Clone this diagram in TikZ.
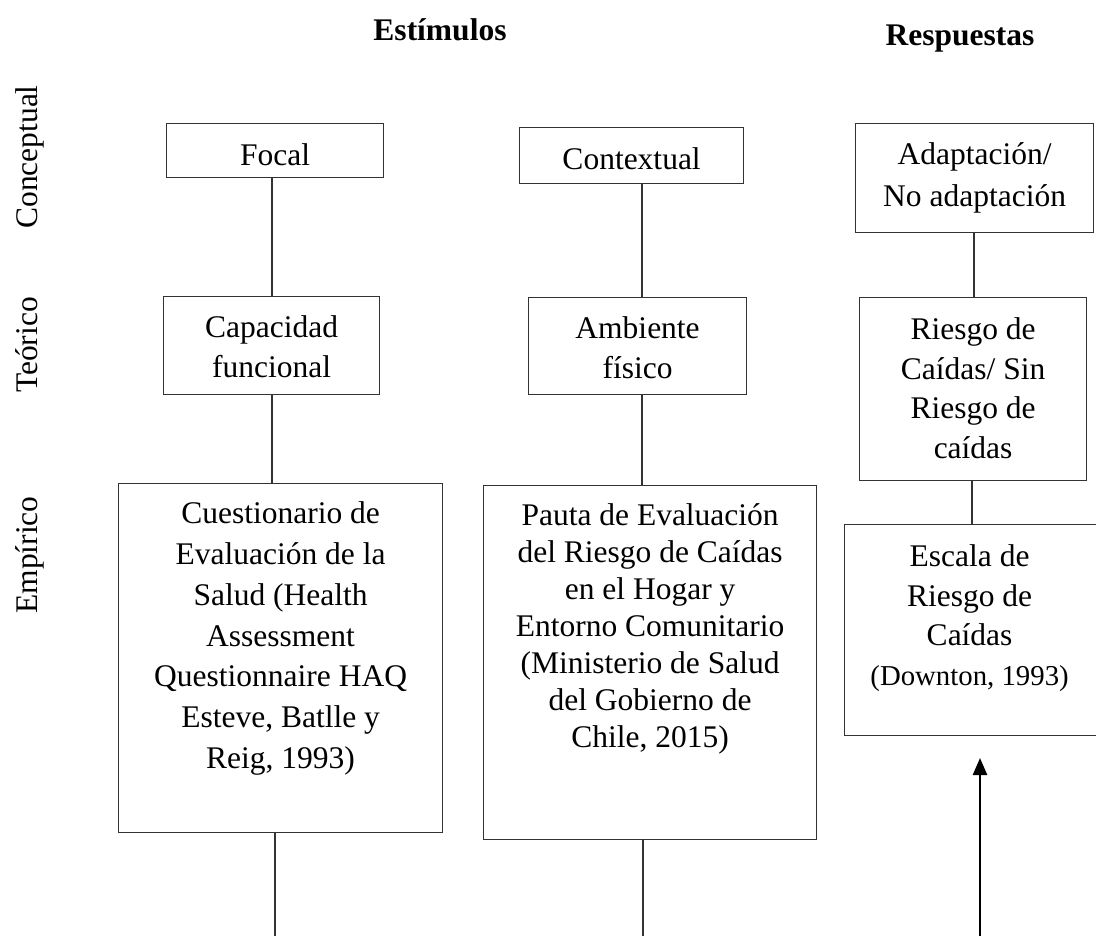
\documentclass[tikz,border=0pt]{standalone}
\usepackage{fontspec}
\setmainfont{Liberation Serif}
\usetikzlibrary{arrows.meta}
\newcommand\bxc[5]{\parbox[c][#2][t]{#1}{\fontsize{31.5}{#4}\selectfont\centering\rule{0pt}{#3}#5}}
\tikzset{
  bx/.style={draw=black!80, line width=1.2pt, inner sep=0pt, anchor=north west},
  conn/.style={draw=black!80, line width=1.2pt},
  arr/.style={draw=black, line width=2.4pt, -{Triangle[length=17pt,width=14pt]}},
  ttl/.style={font=\fontsize{31.5}{38}\selectfont\bfseries, anchor=base, inner sep=0pt},
  lab/.style={font=\fontsize{31.5}{38}\selectfont, rotate=90, anchor=base, inner sep=0pt}
}
\begin{document}
\begin{tikzpicture}[x=1pt,y=-1pt]
\useasboundingbox (0,0) rectangle (1096,936);
% titles
\node[ttl] (estim) at (440,41) {Estímulos};
\node[ttl] (resp) at (960,46) {Respuestas};
% side labels
\node[lab] (conc) at (37,157) {Conceptual};
\node[lab] (teor) at (37,345) {Teórico};
\node[lab] (empi) at (37,555) {Empírico};
% left column
\node[bx] (focal) at (166,123) {\bxc{217pt}{54pt}{42pt}{40pt}{Focal}};
\node[bx] (cap) at (163,296) {\bxc{216pt}{98pt}{41pt}{40pt}{Capacidad\\funcional}};
\node[bx] (cues) at (118,483) {\bxc{324pt}{349pt}{40pt}{40.8pt}{Cuestionario de\\Evaluación de la\\Salud (Health\\Assessment\\Questionnaire HAQ\\Esteve, Batlle y\\Reig, 1993)}};
% middle column
\node[bx] (cont) at (519,127) {\bxc{224pt}{56pt}{42pt}{40pt}{Contextual}};
\node[bx] (amb) at (528,297) {\bxc{218pt}{97pt}{41pt}{40pt}{Ambiente\\físico}};
\node[bx] (pauta) at (483,485) {\bxc{333pt}{354pt}{40pt}{37pt}{Pauta de Evaluación\\del Riesgo de Caídas\\en el Hogar y\\Entorno Comunitario\\(Ministerio de Salud\\del Gobierno de\\Chile, 2015)}};
% right column
\node[bx] (adap) at (855,123) {\bxc{238pt}{109pt}{41pt}{42pt}{Adaptación/\\No adaptación}};
\node[bx] (ries) at (859,297) {\bxc{227pt}{183pt}{42pt}{39.5pt}{Riesgo de\\Caídas/ Sin\\Riesgo de\\caídas}};
\node[bx] (esc) at (844,524) {\bxc{250pt}{211pt}{42pt}{39.5pt}{Escala de\\Riesgo de\\Caídas\\{\fontsize{28.8}{39.5}\selectfont(Downton, 1993)}}\hspace*{6pt}};
% connector x positions and free ends
\coordinate (xA) at (272,0);
\coordinate (botL) at (275,936);
\coordinate (xB) at (642,0);
\coordinate (botM) at (643,936);
\coordinate (xC) at (974,0);
\coordinate (xD) at (972,0);
\coordinate (arrS) at (980,936);
\coordinate (arrE) at (980,758);
% connectors
\draw[conn] (focal.south -| xA) -- (cap.north -| xA);
\draw[conn] (cap.south -| xA) -- (cues.north -| xA);
\draw[conn] (cues.south -| botL) -- (botL);
\draw[conn] (cont.south -| xB) -- (amb.north -| xB);
\draw[conn] (amb.south -| xB) -- (pauta.north -| xB);
\draw[conn] (pauta.south -| botM) -- (botM);
\draw[conn] (adap.south -| xC) -- (ries.north -| xC);
\draw[conn] (ries.south -| xD) -- (esc.north -| xD);
\draw[arr] (arrS) -- (arrE);
\end{tikzpicture}
\end{document}
